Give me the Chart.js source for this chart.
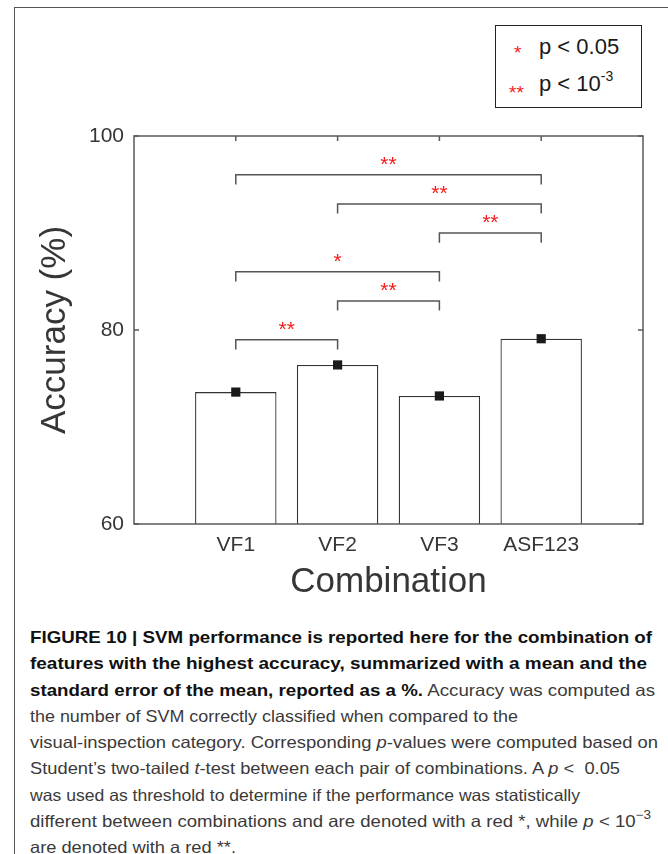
<!DOCTYPE html>
<html>
<head>
<meta charset="utf-8">
<script src="https://cdn.jsdelivr.net/npm/chart.js@4.4.0/dist/chart.umd.min.js"></script>
<style>
html,body{margin:0;padding:0;background:#fff;}
body{width:668px;height:854px;position:relative;overflow:hidden;font-family:"Liberation Sans",Arial,sans-serif;}
#frame{position:absolute;left:14px;top:7px;width:700px;height:900px;border-top:1.5px solid #555;border-left:1.5px solid #555;}
#wrap{position:absolute;left:0;top:0;width:668px;height:600px;}
#legend{position:absolute;left:495px;top:25px;width:145px;height:81px;border:1.5px solid #222;background:#fff;color:#1a1a1a;}
#legend .st{position:absolute;color:#f41c1c;font-size:19px;line-height:19px;}
#legend .tx{position:absolute;font-size:22px;line-height:22px;white-space:nowrap;}
#legend sup{font-size:14px;position:relative;top:-2px;vertical-align:super;line-height:0;}
#cap{position:absolute;left:30px;top:624px;width:640px;font-size:16.5px;line-height:26.25px;color:#3a3a3a;}
#cap .ln{height:26.25px;white-space:nowrap;}
#cap .ln span{display:inline-block;transform-origin:0 50%;}
#cap b{color:#111;}
#cap sup{font-size:12px;line-height:0;position:relative;top:-1px;}
</style>
</head>
<body>
<div id="frame"></div>
<div id="wrap"><canvas id="c"></canvas></div>
<div id="legend">
  <span class="st" style="left:18px;top:17px;">*</span>
  <span class="tx" style="left:43px;top:10px;">p &lt; 0.05</span>
  <span class="st" style="left:13px;top:57px;">**</span>
  <span class="tx" style="left:43px;top:47px;">p &lt; 10<sup>-3</sup></span>
</div>
<div id="cap">
  <div class="ln" data-end="652"><span><b>FIGURE 10 | SVM performance is reported here for the combination of</b></span></div>
  <div class="ln" data-end="647"><span><b>features with the highest accuracy, summarized with a mean and the</b></span></div>
  <div class="ln" data-end="655"><span><b>standard error of the mean, reported as a %.</b> Accuracy was computed as</span></div>
  <div class="ln" data-end="518"><span>the number of SVM correctly classified when compared to the</span></div>
  <div class="ln" data-end="658"><span>visual-inspection category. Corresponding <i>p</i>-values were computed based on</span></div>
  <div class="ln" data-end="620"><span>Student’s two-tailed <i>t</i>-test between each pair of combinations. A <i>p</i> &lt;&nbsp; 0.05</span></div>
  <div class="ln" data-end="580"><span>was used as threshold to determine if the performance was statistically</span></div>
  <div class="ln" data-end="651"><span>different between combinations and are denoted with a red *, while <i>p</i> &lt; 10<sup>−3</sup></span></div>
  <div class="ln" data-end="236"><span>are denoted with a red **.</span></div>
</div>
<script>
// ---- data ----
const categories = ['VF1', 'VF2', 'VF3', 'ASF123'];
const accuracy = [73.6, 76.4, 73.2, 79.1];
const yTicks = [60, 80, 100];
const pairStart = [1, 2, 3, 1, 2, 1];
const pairEnd = [4, 4, 4, 3, 3, 2];
const bracketLevel = [96, 93, 90, 86, 83, 79];
const bracketMark = ['**', '**', '**', '*', '**', '**'];

// ---- caption fitting ----
document.querySelectorAll('#cap .ln').forEach(ln => {
  const sp = ln.querySelector('span');
  const w = sp.getBoundingClientRect().width;
  const target = parseFloat(ln.dataset.end) - 30;
  sp.style.transform = 'scaleX(' + (target / w) + ')';
});

const AXIS = '#5a5a5a';
const TEXT = '#363636';
const FONT = '"Liberation Sans", Arial, sans-serif';

const points = categories.map((c, i) => ({x: i + 1, y: accuracy[i]}));
const bracketSets = pairStart.map((a, i) => ({
  type: 'line',
  data: [
    {x: a, y: bracketLevel[i] - 1},
    {x: a, y: bracketLevel[i]},
    {x: pairEnd[i], y: bracketLevel[i]},
    {x: pairEnd[i], y: bracketLevel[i] - 1}
  ],
  borderColor: '#555',
  borderWidth: 1.5,
  pointRadius: 0,
  tension: 0,
  fill: false,
  order: 0
}));

const framePlugin = {
  id: 'frame',
  afterDatasetsDraw(chart) {
    const {ctx, chartArea: ca, scales: {x, y}} = chart;
    ctx.save();
    ctx.strokeStyle = AXIS;
    ctx.lineWidth = 1.5;
    ctx.strokeRect(ca.left, ca.top, ca.right - ca.left, ca.bottom - ca.top);
    ctx.beginPath();
    x.ticks.forEach(t => {
      if (t.value >= 1 && t.value <= categories.length) {
        const px = x.getPixelForValue(t.value);
        ctx.moveTo(px, ca.top); ctx.lineTo(px, ca.top + 5);
      }
    });
    y.ticks.forEach(t => {
      const py = y.getPixelForValue(t.value);
      ctx.moveTo(ca.left, py); ctx.lineTo(ca.left + 5, py);
      ctx.moveTo(ca.right, py); ctx.lineTo(ca.right - 5, py);
    });
    ctx.stroke();
    // significance marks
    ctx.fillStyle = '#f41c1c';
    ctx.font = '21px ' + FONT;
    ctx.textAlign = 'center';
    ctx.textBaseline = 'alphabetic';
    bracketMark.forEach((m, i) => {
      const px = x.getPixelForValue((pairStart[i] + pairEnd[i]) / 2);
      const py = y.getPixelForValue(bracketLevel[i]);
      ctx.fillText(m, px, py - 4);
    });
    ctx.restore();
  }
};

new Chart(document.getElementById('c'), {
  type: 'bar',
  data: {
    datasets: [
      {
        type: 'scatter',
        data: points,
        pointStyle: 'rect',
        pointRadius: 6.5,
        backgroundColor: '#1a1a1a',
        borderWidth: 0,
        order: 0
      },
      ...bracketSets,
      {
        type: 'bar',
        data: points,
        backgroundColor: '#ffffff',
        borderColor: '#333333',
        borderWidth: 1.3,
        base: 60,
        categoryPercentage: 1,
        barPercentage: 0.8,
        order: 5
      }
    ]
  },
  options: {
    responsive: true,
    maintainAspectRatio: false,
    animation: false,
    layout: {padding: {left: 0, right: 25, top: 136, bottom: 0}},
    plugins: {legend: {display: false}, tooltip: {enabled: false}},
    scales: {
      x: {
        type: 'linear',
        offset: false,
        min: 0,
        max: categories.length + 1,
        grid: {display: false, drawTicks: false, offset: false},
        border: {display: false},
        afterBuildTicks: s => { s.ticks = categories.map((c, i) => ({value: i + 1})); },
        afterFit: s => { s.height = 76; },
        ticks: {
          autoSkip: false,
          maxRotation: 0,
          padding: 9,
          color: TEXT,
          font: {family: FONT, size: 21},
          callback: v => categories[v - 1] || ''
        },
        title: {
          display: true,
          text: 'Combination',
          color: TEXT,
          font: {family: FONT, size: 35, lineHeight: 1},
          padding: {top: 0, bottom: 0}
        }
      },
      y: {
        min: 60,
        max: 100,
        grid: {display: false, drawTicks: false},
        border: {display: false},
        afterBuildTicks: s => { s.ticks = yTicks.map(v => ({value: v})); },
        afterFit: s => { s.width = 134; },
        ticks: {
          padding: 10,
          color: TEXT,
          font: {family: FONT, size: 21}
        },
        title: {
          display: true,
          text: 'Accuracy (%)',
          color: TEXT,
          font: {family: FONT, size: 35, lineHeight: 1},
          padding: {top: 38, bottom: 0}
        }
      }
    }
  },
  plugins: [framePlugin]
});
</script>
</body>
</html>
